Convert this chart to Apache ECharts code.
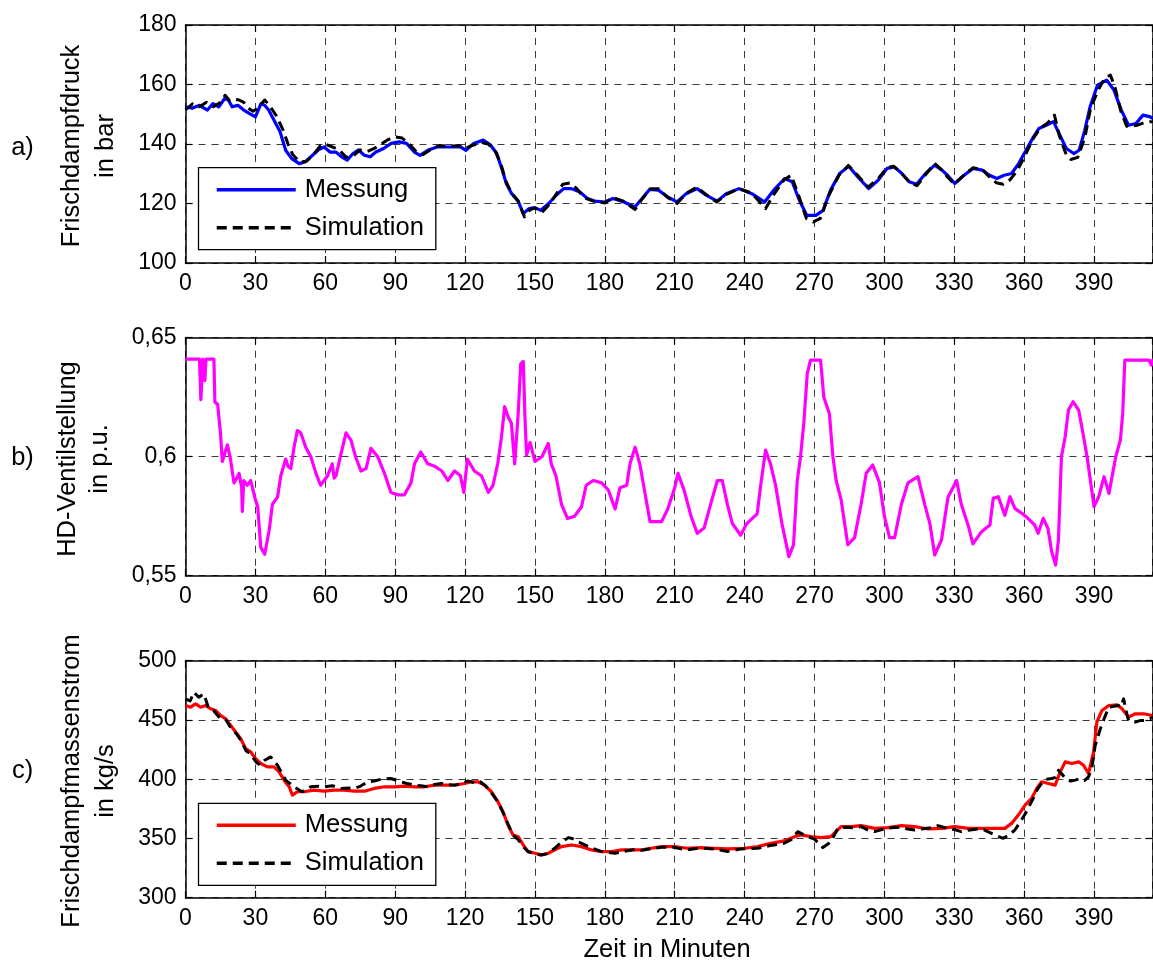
<!DOCTYPE html>
<html>
<head>
<meta charset="utf-8">
<title>Frischdampf</title>
<script src="https://cdn.jsdelivr.net/npm/echarts@6/dist/echarts.min.js"></script>
<style>
  html, body { margin: 0; padding: 0; background: #fff; }
  #chart { width: 1153px; height: 963px; }
</style>
</head>
<body>
<div id="chart"></div>
<script>
// Time axis (minutes) and tick settings
const timeMax = 415;
const timeInterval = 30;

// a) live steam pressure in bar: [minute, value]
const pressureMeasured = [
  [0,152.5],[2.8,152],[6,153],[9.4,151.4],[11.8,153.6],[14.3,152.5],[16.8,155.3],[18.4,154.8],[20,152.5],[22.5,153],
  [25,151.4],[27.5,150.2],[30,149.1],[32.4,153.6],[34,153],[35.7,151.4],[38,148],[40.6,144.1],[43,137.9],[45.6,135.1],
  [48.8,133.4],[51.3,134],[53.8,135.7],[57,138],[59.5,139],[62,137.3],[64.5,137.3],[67,135.7],[69.4,134.6],[71.9,136.8],
  [74.3,138],[76.8,136.2],[79.3,135.7],[81.7,137.3],[85,138.5],[88.3,140.2],[91.6,140.7],[94.9,140.2],[98.2,137.3],[100.7,136.2],
  [104,137.9],[108,139],[113,139],[118,139],[120.4,137.9],[123.7,140.2],[127.8,141.3],[131,139.6],[133.6,136.8],[136,131.2],
  [137.7,126.7],[140,123.3],[142.6,121.1],[145,116.6],[147.5,118.3],[150,118.6],[152.5,117.7],[155.8,119.9],[159,122.7],[162.3,125],
  [165.6,125],[169.3,123.9],[172.5,121.7],[175.6,120.8],[180,120.5],[183.5,121.7],[188.2,120.5],[192.9,118.8],[196,121.7],[199.2,124.7],
  [203,124.5],[207,122.2],[211,120.5],[214.9,123.3],[219.6,125],[223.5,122.8],[228.2,120.8],[232.1,123.3],[237.6,125],[243.1,123.3],
  [248.6,120.5],[252.5,124.5],[257.2,128.4],[260.4,127.3],[263.5,121.1],[266.7,116],[270.6,116],[273.7,117.7],[276.9,124.5],[280.8,130.1],
  [284.7,132.5],[288.6,128.9],[293.3,125],[297.3,127.8],[301.2,131.8],[304.3,132.3],[307.5,130.1],[310.6,127.3],[313.8,126.5],[317.7,130.1],
  [321.6,132.9],[324.7,131.2],[327.1,129.5],[330.2,126.7],[334.2,129.5],[338.1,131.8],[342,131.2],[345.1,129.5],[348.3,128.4],[351.4,129.5],
  [354.6,130.1],[357.7,133.5],[360.8,137.9],[364,142.4],[366.3,145.2],[369.5,146.3],[372.6,147.5],[375,143.5],[378.1,138.5],[381.3,136.8],
  [383.6,137.9],[386,144.6],[388.3,152.5],[391.5,159.8],[395.4,161.5],[398.5,158.2],[401.7,151.4],[404.8,146.3],[408,146.9],[411,149.7],
  [414.2,149.1],[415,148.5]
];
const pressureSimulated = [
  [0,151.5],[3,153.5],[6,152.5],[9,154],[12,152.5],[15,154],[17,156.4],[19,154.5],[21,155],[23,154.8],
  [25,154],[27,152],[29,151],[31,152],[34,154.8],[36,153],[39,149.5],[42,144.5],[44,140],[46,136.5],
  [49,134],[52,134.2],[55,136.5],[58,139.5],[60,140],[63,139],[66,138],[69,135.5],[72,136],[75,138],
  [78,137.5],[81,138.5],[84,140],[87,141.5],[90,142.4],[93,142],[96,140],[99,137.5],[102,136.5],[105,138],
  [109,139.5],[113,139.2],[117,139.5],[120,138.5],[123,139.5],[127,140.5],[130,140],[133,137.5],[135.5,133],[137.5,127.5],
  [140,123.5],[143,120.5],[145.5,115.5],[148,118],[150,118.5],[153,117],[156,119.5],[159,123],[162,126.5],[165,126.9],
  [168,125],[171,122],[175,120.8],[180,120.2],[183.5,122],[188,120.8],[193,118],[196,121.5],[199.5,125],[203,125],
  [207,122],[211,120],[215,123.5],[219.5,125.5],[223.5,123],[228,120.5],[232,123],[237.5,125],[243,123.5],[249,118.3],
  [252.5,123],[257,128],[260,129.5],[263.5,122],[266.5,115],[269.5,113.8],[272.5,115],[276,122.5],[280.5,129.5],[284.5,132.8],
  [288.5,129.5],[293,125.5],[297.5,128.5],[301,132],[304,132.5],[307.5,130],[311,127],[314,126],[318,130],[321.5,133.5],
  [325,131],[327,129],[330,126.5],[334,129.5],[338,132],[342,131.5],[345,129],[348,127],[351,126.5],[354,128],
  [357,131],[360,135.5],[364,142],[367,145.5],[370,147],[373,149.7],[375,143],[378,136.5],[380,134.8],[383,135.5],
  [386,142],[388.5,152],[392,158.5],[394.5,162],[397,163.2],[399,159],[401.5,151],[404,146],[408,146.2],[411,147],
  [414,147.5],[415,147.5]
];

// b) HP valve position in p.u.
const valvePosition = [
  [0,0.641],[6,0.641],[6.6,0.624],[7.4,0.641],[8.3,0.632],[8.8,0.641],[12.2,0.641],[12.6,0.623],[13.8,0.622],[15,0.61],
  [15.8,0.598],[18,0.605],[19.3,0.599],[20.8,0.589],[22,0.591],[23,0.593],[24.1,0.587],[24.4,0.577],[25,0.59],[26.5,0.588],
  [28,0.59],[29.7,0.583],[31,0.579],[32.3,0.562],[34,0.559],[35.9,0.569],[37.3,0.58],[39.5,0.583],[40.9,0.592],[43,0.599],
  [44,0.596],[45.2,0.595],[46.6,0.604],[48,0.611],[49.5,0.61],[51.6,0.604],[53.8,0.6],[56,0.593],[58,0.588],[61,0.592],
  [63,0.597],[63.8,0.591],[64.6,0.592],[66.7,0.601],[68.9,0.61],[71,0.607],[73,0.6],[75.3,0.594],[77.5,0.595],[79.6,0.6035],
  [82.5,0.6],[85.4,0.593],[88.2,0.585],[91,0.584],[94,0.584],[96.8,0.589],[98.3,0.597],[101,0.602],[104,0.597],[107,0.596],
  [110,0.594],[112.6,0.59],[115.5,0.594],[118,0.592],[119.5,0.585],[121,0.599],[124,0.594],[127,0.592],[130,0.585],[132,0.588],
  [134,0.597],[135.6,0.608],[137,0.621],[138.4,0.617],[139.9,0.614],[141.3,0.597],[142.8,0.618],[143.9,0.639],[145,0.64],[145.7,0.617],
  [146.4,0.6007],[147.9,0.606],[150,0.598],[153,0.6],[155.7,0.6056],[157,0.597],[159,0.592],[161.4,0.58],[164,0.574],[167,0.575],
  [170,0.579],[172,0.588],[175,0.59],[178.6,0.589],[181.5,0.586],[184.4,0.578],[186.5,0.587],[189.4,0.588],[190.8,0.597],[193,0.604],
  [195,0.597],[197,0.586],[199.4,0.5727],[204.4,0.5727],[207,0.578],[210,0.587],[211.4,0.593],[214,0.586],[217,0.575],[219.7,0.5678],
  [222.6,0.57],[225.4,0.58],[228.3,0.59],[230.4,0.59],[232.6,0.58],[234.7,0.572],[238.3,0.567],[241,0.572],[245.4,0.576],[246.9,0.588],
  [249,0.6028],[251.1,0.597],[253.3,0.588],[256,0.572],[259,0.558],[261,0.563],[262.6,0.59],[264,0.6],[265.4,0.614],[266.9,0.635],
  [268.3,0.6406],[272.6,0.6406],[274,0.625],[276.4,0.618],[277.9,0.6],[279.3,0.59],[281.4,0.582],[284.3,0.563],[287.2,0.566],[290,0.58],
  [292.2,0.593],[295,0.5965],[297.9,0.589],[300,0.575],[302.2,0.566],[304.4,0.566],[307.3,0.58],[310.1,0.589],[314.4,0.5916],[317.3,0.58],
  [319.5,0.572],[321.6,0.5587],[324.5,0.565],[327.3,0.583],[331,0.59],[333,0.58],[336,0.571],[338,0.5634],[341.7,0.5685],[345.3,0.5713],
  [346.7,0.5825],[348.9,0.5832],[351.7,0.5754],[353.9,0.5832],[356,0.5783],[359,0.5762],[361.6,0.5741],[364.5,0.5713],[366,0.5678],[368.2,0.5741],
  [370.2,0.5699],[371.8,0.5601],[373.5,0.5545],[374.7,0.565],[376,0.6],[377.6,0.6084],[379,0.6196],[381,0.6231],[383.4,0.6196],[385.5,0.6084],
  [387,0.6],[388.4,0.5902],[390,0.579],[392,0.5832],[394.3,0.5916],[396.4,0.5846],[399.3,0.6],[401.3,0.607],[402.3,0.6182],[403.2,0.6406],
  [413.5,0.6406],[414.6,0.6385],[415,0.6409]
];

// c) live steam mass flow in kg/s
const flowMeasured = [
  [0,462.2],[2.2,460.8],[4.3,463.6],[6.5,460.8],[8.6,462.2],[10.8,459.4],[12.9,458],[15,453.8],[17.2,451],[19.4,445.4],
  [21.5,439.8],[23.7,434.2],[25.8,425.8],[28,423],[30.1,417.4],[32.3,413.2],[35.2,410.4],[38,410.4],[40.2,406.2],[42.3,399.2],
  [44.5,393.6],[45.9,386.6],[48,389.4],[50.9,389.4],[55.2,390.8],[59.5,389.9],[63.8,390.8],[68.1,390.8],[72.5,389.9],[76.8,389.9],
  [81,392.2],[85.4,393.6],[89.7,393.6],[94,394.1],[98.3,393.6],[102.6,393.6],[106.9,395],[111.2,395],[115.5,395],[119.8,396.4],
  [122.7,397.8],[125.5,397.8],[128.4,395],[131.3,389.4],[134.1,381],[136.3,372.5],[138.4,361.3],[140.6,353],[142.8,351.5],[145,344.5],
  [147,338.9],[150,337.5],[153,336.1],[155.7,337.5],[158.5,340.3],[161.4,343.1],[165.7,344.5],[170,343.1],[174.3,340.3],[178.6,338.9],
  [183,338.9],[187.2,340.3],[191.5,340.3],[195.8,340.3],[200,341.7],[204.4,343.1],[209.7,343.1],[215.5,341.7],[221,342.3],[227,341.7],
  [232.7,341.2],[240,341.7],[245.6,343.1],[251.3,345.9],[257,347.9],[261.4,351.5],[264.2,353],[268.5,351.5],[272.8,350.7],[277,351.5],
  [281.4,360],[285.8,360],[290,360.8],[295.8,358.5],[301.5,359.1],[307.3,360.8],[313,360],[318.8,358],[324.5,358.5],[330.2,360],
  [336,358.5],[341.7,358.5],[347.4,358.5],[351.7,358.5],[354.6,362.7],[357.5,369.7],[360.4,378.2],[363.2,383.8],[365.4,392.2],[367.5,397.8],
  [370.4,396.4],[373.3,395],[375.5,406.2],[377.6,414.6],[380.5,413.2],[383.4,414.6],[385.5,411.8],[387.6,404.8],[389.8,423],[391.2,448.2],
  [393.4,458],[396.3,462.2],[400,462.7],[402,459.4],[404.8,452.4],[407.7,455.2],[411.3,455.2],[415,453.8]
];
const flowSimulated = [
  [0,467.8],[2,466],[3.6,473.4],[5.7,469.2],[7.9,472],[10,459.4],[12,458],[15,451],[17.5,450],[19.5,443],
  [22,438],[24,432],[26,424],[28,421],[30.5,414],[32,412],[34,416],[36.6,418.8],[39.5,411.8],[43,399.2],
  [46.6,393.6],[50,389.4],[53.8,393.6],[57,394],[59.5,393.6],[63,394.5],[66.7,392.2],[70,392.5],[72.5,392.2],[75,394],
  [78.2,397.8],[81,398.5],[84,400],[88.2,400.6],[92.5,397.8],[95,396.4],[98.3,395],[101,394.5],[104,393.6],[107,395.5],
  [109.8,396.4],[112,395.5],[115.5,395],[118,396],[121.2,398.5],[124,397],[126.5,397.8],[129,394],[131.5,388],[134,381],
  [136.5,371],[138.5,362],[140.5,353],[142.8,349],[145,343],[147,339],[150,337],[152.5,336],[155,337],[158,341],
  [161,346],[164.3,350.7],[166,350],[168.6,347.1],[173,343.1],[178.6,338.9],[184.4,337.5],[188,339],[192,340.5],[196,340],
  [200,341.5],[204.4,342.5],[209.7,342.5],[215,340.3],[221,342],[227,341],[232.7,339],[238,341],[245.6,341.7],[251,344],
  [257,346],[260,349],[262.8,355.7],[266,352.5],[270,349.4],[273.6,342.3],[277,347],[280,358.5],[283,359.5],[287,359],
  [290,360],[293,357],[295.8,355.8],[299,357.5],[303,359],[307.3,359.5],[310,358],[313,357.1],[316,358],[320,359],
  [323,360.8],[326,359],[330,357.5],[333,355.8],[336,357],[340,358],[343,357.1],[347.4,352.9],[351,350.1],[353.5,353],
  [356,357.1],[358,363],[360.4,370.6],[363.9,383.8],[365.5,391],[367.5,396.4],[369.5,400],[371.8,400.6],[373.5,401.5],[374.7,407.6],
  [376,404.8],[378,400],[380,398.5],[381.9,399.2],[384,400.5],[386,399],[387.6,402],[389,409],[390.5,428.6],[392.7,442.6],
  [394.5,452],[396.3,460.8],[398.5,461.5],[400.5,462.2],[401.5,461],[402.7,467.8],[403.7,458],[404.8,449.6],[407.7,448.2],[410,449.6],
  [412,449.6],[414,451],[415,452.4]
];

// Y-axis ranges and ticks per panel
const pressureTicks = { min: 100, max: 180, interval: 20 };
const valveTicks = { min: 0.55, max: 0.65, interval: 0.05 };
const flowTicks = { min: 300, max: 500, interval: 50 };

const FONT = 'Liberation Sans, Arial, Helvetica, sans-serif';
const chart = echarts.init(document.getElementById('chart'), null, { renderer: 'canvas' });

const gridPos = [
  { left: 185.5, top: 25, width: 966.8, height: 238 },
  { left: 185.5, top: 337.7, width: 966.8, height: 238 },
  { left: 185.5, top: 660.7, width: 966.8, height: 237 }
];

const axisLine = { show: true, onZero: false, lineStyle: { color: '#000', width: 1.5 } };
const tick = { show: true, inside: true, length: 7, lineStyle: { color: '#000', width: 1.2 } };
const gridLine = { show: true, lineStyle: { color: '#3c3c3c', width: 1, type: [7, 6] } };
const labelStyle = { color: '#000', fontSize: 23, fontFamily: FONT, margin: 9 };

const xAxes = [], yAxes = [];
[pressureTicks, valveTicks, flowTicks].forEach((yt, i) => {
  xAxes.push({
    type: 'value', gridIndex: i, position: 'bottom', min: 0, max: timeMax, interval: timeInterval,
    axisLine, axisTick: tick, splitLine: gridLine,
    axisLabel: Object.assign({ showMaxLabel: false, showMinLabel: true }, labelStyle)
  });
  xAxes.push({
    type: 'value', gridIndex: i, position: 'top', min: 0, max: timeMax, interval: timeInterval,
    axisLine, axisTick: tick, splitLine: { show: false }, axisLabel: { show: false }
  });
  yAxes.push({
    type: 'value', gridIndex: i, position: 'left', min: yt.min, max: yt.max, interval: yt.interval,
    axisLine, axisTick: tick, splitLine: gridLine,
    axisLabel: Object.assign({
      showMaxLabel: true, showMinLabel: true,
      formatter: v => String(+v.toFixed(2)).replace('.', ',')
    }, labelStyle)
  });
  yAxes.push({
    type: 'value', gridIndex: i, position: 'right', min: yt.min, max: yt.max, interval: yt.interval,
    axisLine, axisTick: tick, splitLine: { show: false }, axisLabel: { show: false }
  });
});

function lineSeries(name, panel, data, color, dashed) {
  return {
    name, type: 'line', xAxisIndex: panel * 2, yAxisIndex: panel * 2, data,
    symbol: 'none', showSymbol: false, clip: true, animation: false,
    lineStyle: { color, width: dashed ? 3 : 3.2, type: dashed ? [10, 6] : 'solid', join: 'round' },
    itemStyle: { color },
    z: dashed ? 3 : 2
  };
}

// Legend entries show only the line sample (no marker symbol)
const legendBase = {
  orient: 'vertical', left: 198.5, selectedMode: false,
  backgroundColor: '#fff', borderColor: '#000', borderWidth: 1.3, borderRadius: 0,
  padding: [9, 12, 9, 16.5], itemGap: 12, itemWidth: 79, itemHeight: 14,
  itemStyle: { opacity: 0, borderWidth: 0 },
  lineStyle: { width: 3.5 },
  textStyle: { color: '#000', fontSize: 25.5, fontFamily: FONT, lineHeight: 26, padding: [0, 0, 0, 4] },
  formatter: n => n.replace(/ [ac]$/, ''),
  z: 10
};

const titleText = (text, x, y, rot, lh) => ({
  type: 'text', x, y, rotation: rot || 0, z: 20,
  style: { text, fill: '#000', font: '25.5px ' + FONT, align: 'center', verticalAlign: 'middle', lineHeight: lh || 34 }
});

chart.setOption({
  backgroundColor: '#fff',
  animation: false,
  grid: gridPos.map(g => Object.assign({ containLabel: false, outerBoundsMode: 'none', show: false }, g)),
  xAxis: xAxes,
  yAxis: yAxes,
  legend: [
    Object.assign({}, legendBase, { top: 167.7, data: ['Messung a', 'Simulation a'] }),
    Object.assign({}, legendBase, { top: 803.3, data: ['Messung c', 'Simulation c'] })
  ],
  series: [
    lineSeries('Messung a', 0, pressureMeasured, '#0000ff', false),
    lineSeries('Simulation a', 0, pressureSimulated, '#000000', true),
    lineSeries('HD-Ventilstellung', 1, valvePosition, '#ff00ff', false),
    lineSeries('Messung c', 2, flowMeasured, '#ff0000', false),
    lineSeries('Simulation c', 2, flowSimulated, '#000000', true)
  ],
  graphic: [
    titleText('Frischdampfdruck\nin bar', 89, 146, Math.PI / 2, 34),
    titleText('HD-Ventilstellung\nin p.u.', 84, 459, Math.PI / 2, 32),
    titleText('Frischdampfmassenstrom\nin kg/s', 89, 781, Math.PI / 2, 34),
    titleText('a)', 22.5, 148),
    titleText('b)', 22.5, 458),
    titleText('c)', 22.5, 771),
    titleText('Zeit in Minuten', 667, 950)
  ]
});
</script>
</body>
</html>
